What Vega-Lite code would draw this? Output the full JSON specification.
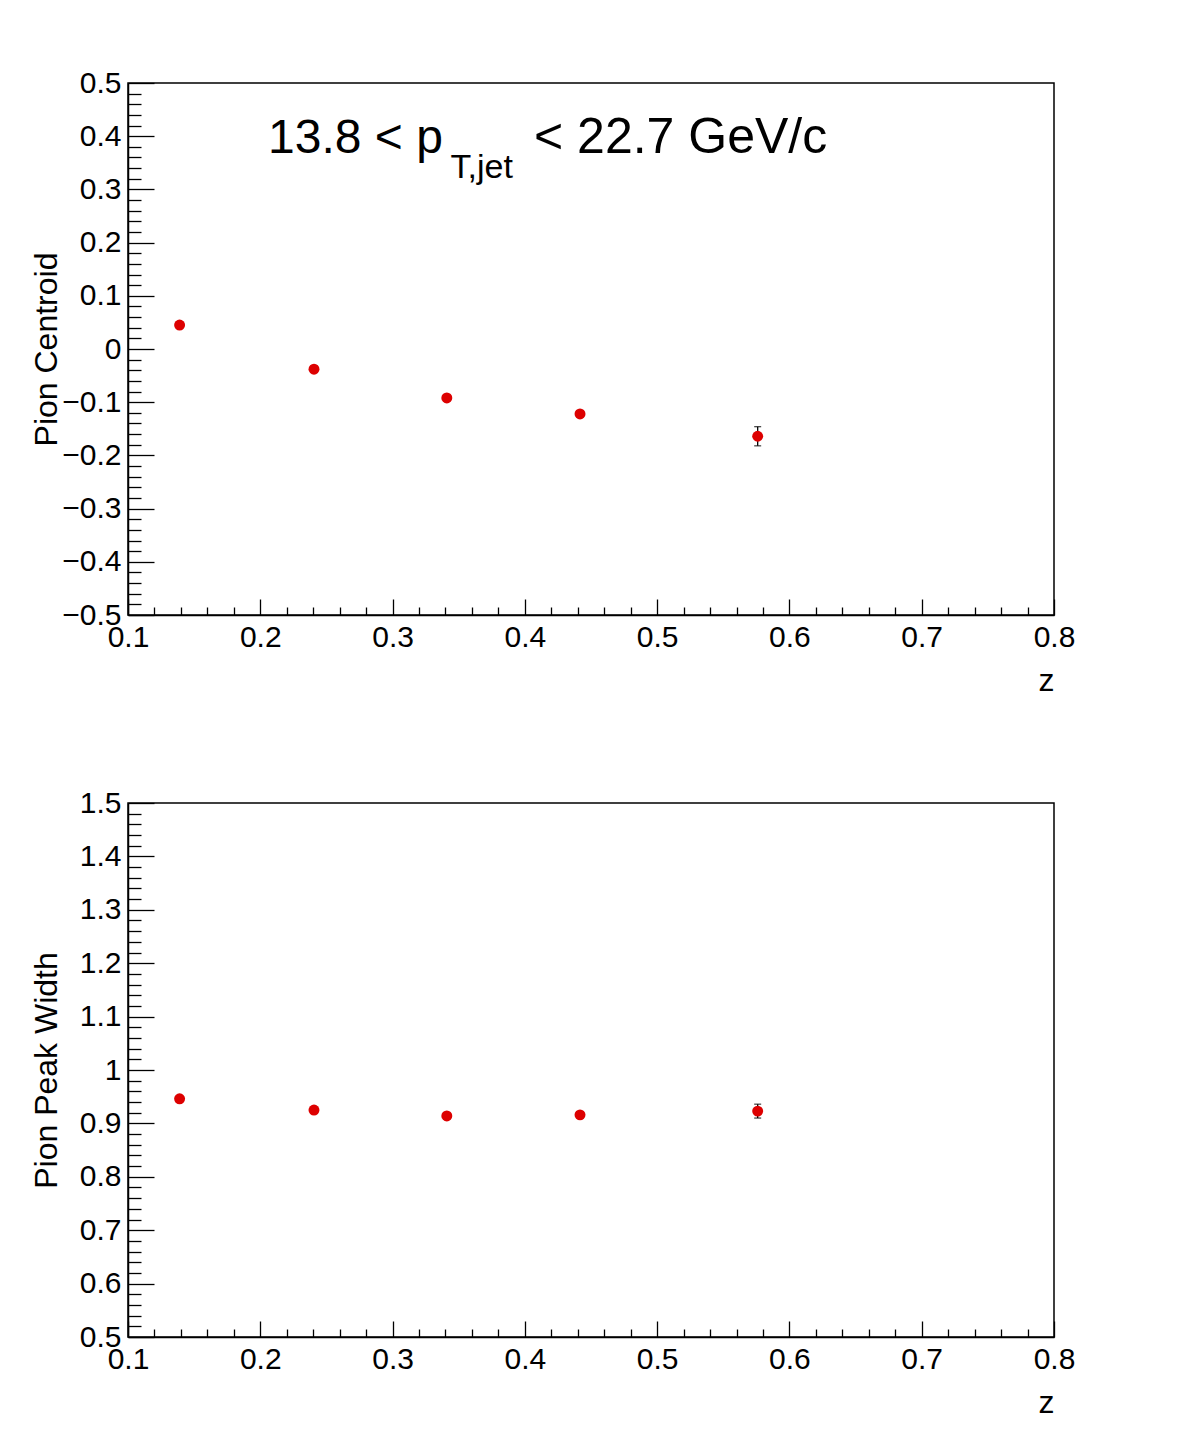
{
  "$schema": "https://vega.github.io/schema/vega-lite/v6.json",
  "background": "white",
  "padding": {"left": 29, "top": 67, "right": 5, "bottom": 5},
  "config": {
    "font": "Liberation Sans",
    "view": {"stroke": "black", "strokeWidth": 1.5},
    "axis": {
      "grid": false,
      "labelFont": "Liberation Sans",
      "labelFontSize": 30,
      "labelColor": "black",
      "titleFont": "Liberation Sans",
      "titleFontSize": 32,
      "titleFontWeight": "normal",
      "titleColor": "black",
      "domainColor": "black",
      "domainWidth": 1.5,
      "tickColor": "black",
      "tickWidth": 1.3,
      "labelOverlap": false,
      "labelFlush": false,
      "tickCount": 200
    }
  },
  "datasets": {
    "centroid": [
      {"z": 0.139, "value": 0.045, "lo": 0.041, "hi": 0.049},
      {"z": 0.2406, "value": -0.038, "lo": -0.042, "hi": -0.034},
      {"z": 0.341, "value": -0.092, "lo": -0.096, "hi": -0.088},
      {"z": 0.4417, "value": -0.122, "lo": -0.127, "hi": -0.117},
      {"z": 0.576, "value": -0.164, "lo": -0.182, "hi": -0.146}
    ],
    "width": [
      {"z": 0.139, "value": 0.946, "lo": 0.942, "hi": 0.95},
      {"z": 0.2406, "value": 0.925, "lo": 0.921, "hi": 0.929},
      {"z": 0.341, "value": 0.914, "lo": 0.91, "hi": 0.918},
      {"z": 0.4417, "value": 0.916, "lo": 0.911, "hi": 0.921},
      {"z": 0.576, "value": 0.923, "lo": 0.91, "hi": 0.936}
    ]
  },
  "spacing": 188,
  "bounds": "flush",
  "vconcat": [
    {
      "width": 926,
      "height": 532,
      "layer": [
        {
          "data": {"name": "centroid"},
          "mark": {"type": "rule", "color": "black", "strokeWidth": 1.3},
          "encoding": {
            "x": {
              "field": "z", "type": "quantitative",
              "scale": {"domain": [0.1, 0.8], "nice": false, "zero": false},
              "axis": {
                "title": "z", "titleAnchor": "end", "titleAlign": "right", "titlePadding": 5, "tickCount": 200,
                "values": [0.1,0.12,0.14,0.16,0.18,0.2,0.22,0.24,0.26,0.28,0.3,0.32,0.34,0.36,0.38,0.4,0.42,0.44,0.46,0.48,0.5,0.52,0.54,0.56,0.58,0.6,0.62,0.64,0.66,0.68,0.7,0.72,0.74,0.76,0.78,0.8],
                "tickSize": {"condition": {"test": "abs(datum.value*10 - round(datum.value*10)) < 0.001", "value": -16}, "value": -8},
                "labelExpr": "abs(datum.value*10 - round(datum.value*10)) < 0.001 ? format(datum.value, '~g') : ''",
                "labelPadding": 23
              }
            },
            "y": {
              "field": "lo", "type": "quantitative",
              "scale": {"domain": [-0.5, 0.5], "nice": false, "zero": false},
              "axis": {
                "title": "Pion Centroid", "titleX": -82, "titleBaseline": "middle", "tickCount": 200,
                "values": [-0.5,-0.48,-0.46,-0.44,-0.42,-0.4,-0.38,-0.36,-0.34,-0.32,-0.3,-0.28,-0.26,-0.24,-0.22,-0.2,-0.18,-0.16,-0.14,-0.12,-0.1,-0.08,-0.06,-0.04,-0.02,0,0.02,0.04,0.06,0.08,0.1,0.12,0.14,0.16,0.18,0.2,0.22,0.24,0.26,0.28,0.3,0.32,0.34,0.36,0.38,0.4,0.42,0.44,0.46,0.48,0.5],
                "tickSize": {"condition": {"test": "abs(datum.value*10 - round(datum.value*10)) < 0.001", "value": -26}, "value": -13},
                "labelExpr": "abs(datum.value*10 - round(datum.value*10)) < 0.001 ? format(datum.value, '~g') : ''",
                "labelPadding": 33
              }
            },
            "y2": {"field": "hi"}
          }
        },
        {
          "data": {"name": "centroid"},
          "mark": {"type": "tick", "orient": "horizontal", "size": 7, "thickness": 1.3, "color": "black"},
          "encoding": {
            "x": {"field": "z", "type": "quantitative", "scale": {"domain": [0.1, 0.8], "nice": false, "zero": false}},
            "y": {"field": "lo", "type": "quantitative", "scale": {"domain": [-0.5, 0.5], "nice": false, "zero": false}}
          }
        },
        {
          "data": {"name": "centroid"},
          "mark": {"type": "tick", "orient": "horizontal", "size": 7, "thickness": 1.3, "color": "black"},
          "encoding": {
            "x": {"field": "z", "type": "quantitative", "scale": {"domain": [0.1, 0.8], "nice": false, "zero": false}},
            "y": {"field": "hi", "type": "quantitative", "scale": {"domain": [-0.5, 0.5], "nice": false, "zero": false}}
          }
        },
        {
          "data": {"name": "centroid"},
          "mark": {"type": "circle", "size": 120, "color": "#dd0000", "opacity": 1},
          "encoding": {
            "x": {"field": "z", "type": "quantitative", "scale": {"domain": [0.1, 0.8], "nice": false, "zero": false}},
            "y": {"field": "value", "type": "quantitative", "scale": {"domain": [-0.5, 0.5], "nice": false, "zero": false}}
          }
        },
        {
          "data": {"values": [{"z": 0.2059, "value": 0.3684, "text": "13.8 < p"}]},
          "mark": {"type": "text", "align": "left", "baseline": "alphabetic", "fontSize": 48, "color": "black", "font": "Liberation Sans"},
          "encoding": {
            "x": {"field": "z", "type": "quantitative", "scale": {"domain": [0.1, 0.8], "nice": false, "zero": false}},
            "y": {"field": "value", "type": "quantitative", "scale": {"domain": [-0.5, 0.5], "nice": false, "zero": false}},
            "text": {"field": "text"}
          }
        },
        {
          "data": {"values": [{"z": 0.3438, "value": 0.3214, "text": "T,jet"}]},
          "mark": {"type": "text", "align": "left", "baseline": "alphabetic", "fontSize": 34, "color": "black", "font": "Liberation Sans"},
          "encoding": {
            "x": {"field": "z", "type": "quantitative", "scale": {"domain": [0.1, 0.8], "nice": false, "zero": false}},
            "y": {"field": "value", "type": "quantitative", "scale": {"domain": [-0.5, 0.5], "nice": false, "zero": false}},
            "text": {"field": "text"}
          }
        },
        {
          "data": {"values": [{"z": 0.4069, "value": 0.3684, "text": "< 22.7 GeV/c"}]},
          "mark": {"type": "text", "align": "left", "baseline": "alphabetic", "fontSize": 50, "color": "black", "font": "Liberation Sans"},
          "encoding": {
            "x": {"field": "z", "type": "quantitative", "scale": {"domain": [0.1, 0.8], "nice": false, "zero": false}},
            "y": {"field": "value", "type": "quantitative", "scale": {"domain": [-0.5, 0.5], "nice": false, "zero": false}},
            "text": {"field": "text"}
          }
        }
      ]
    },
    {
      "width": 926,
      "height": 534,
      "layer": [
        {
          "data": {"name": "width"},
          "mark": {"type": "rule", "color": "black", "strokeWidth": 1.3},
          "encoding": {
            "x": {
              "field": "z", "type": "quantitative",
              "scale": {"domain": [0.1, 0.8], "nice": false, "zero": false},
              "axis": {
                "title": "z", "titleAnchor": "end", "titleAlign": "right", "titlePadding": 5, "tickCount": 200,
                "values": [0.1,0.12,0.14,0.16,0.18,0.2,0.22,0.24,0.26,0.28,0.3,0.32,0.34,0.36,0.38,0.4,0.42,0.44,0.46,0.48,0.5,0.52,0.54,0.56,0.58,0.6,0.62,0.64,0.66,0.68,0.7,0.72,0.74,0.76,0.78,0.8],
                "tickSize": {"condition": {"test": "abs(datum.value*10 - round(datum.value*10)) < 0.001", "value": -16}, "value": -8},
                "labelExpr": "abs(datum.value*10 - round(datum.value*10)) < 0.001 ? format(datum.value, '~g') : ''",
                "labelPadding": 23
              }
            },
            "y": {
              "field": "lo", "type": "quantitative",
              "scale": {"domain": [0.5, 1.5], "nice": false, "zero": false},
              "axis": {
                "title": "Pion Peak Width", "titleX": -82, "titleBaseline": "middle", "tickCount": 200,
                "values": [0.5,0.52,0.54,0.56,0.58,0.6,0.62,0.64,0.66,0.68,0.7,0.72,0.74,0.76,0.78,0.8,0.82,0.84,0.86,0.88,0.9,0.92,0.94,0.96,0.98,1,1.02,1.04,1.06,1.08,1.1,1.12,1.14,1.16,1.18,1.2,1.22,1.24,1.26,1.28,1.3,1.32,1.34,1.36,1.38,1.4,1.42,1.44,1.46,1.48,1.5],
                "tickSize": {"condition": {"test": "abs(datum.value*10 - round(datum.value*10)) < 0.001", "value": -26}, "value": -13},
                "labelExpr": "abs(datum.value*10 - round(datum.value*10)) < 0.001 ? format(datum.value, '~g') : ''",
                "labelPadding": 33
              }
            },
            "y2": {"field": "hi"}
          }
        },
        {
          "data": {"name": "width"},
          "mark": {"type": "tick", "orient": "horizontal", "size": 7, "thickness": 1.3, "color": "black"},
          "encoding": {
            "x": {"field": "z", "type": "quantitative", "scale": {"domain": [0.1, 0.8], "nice": false, "zero": false}},
            "y": {"field": "lo", "type": "quantitative", "scale": {"domain": [0.5, 1.5], "nice": false, "zero": false}}
          }
        },
        {
          "data": {"name": "width"},
          "mark": {"type": "tick", "orient": "horizontal", "size": 7, "thickness": 1.3, "color": "black"},
          "encoding": {
            "x": {"field": "z", "type": "quantitative", "scale": {"domain": [0.1, 0.8], "nice": false, "zero": false}},
            "y": {"field": "hi", "type": "quantitative", "scale": {"domain": [0.5, 1.5], "nice": false, "zero": false}}
          }
        },
        {
          "data": {"name": "width"},
          "mark": {"type": "circle", "size": 120, "color": "#dd0000", "opacity": 1},
          "encoding": {
            "x": {"field": "z", "type": "quantitative", "scale": {"domain": [0.1, 0.8], "nice": false, "zero": false}},
            "y": {"field": "value", "type": "quantitative", "scale": {"domain": [0.5, 1.5], "nice": false, "zero": false}}
          }
        }
      ]
    }
  ]
}
